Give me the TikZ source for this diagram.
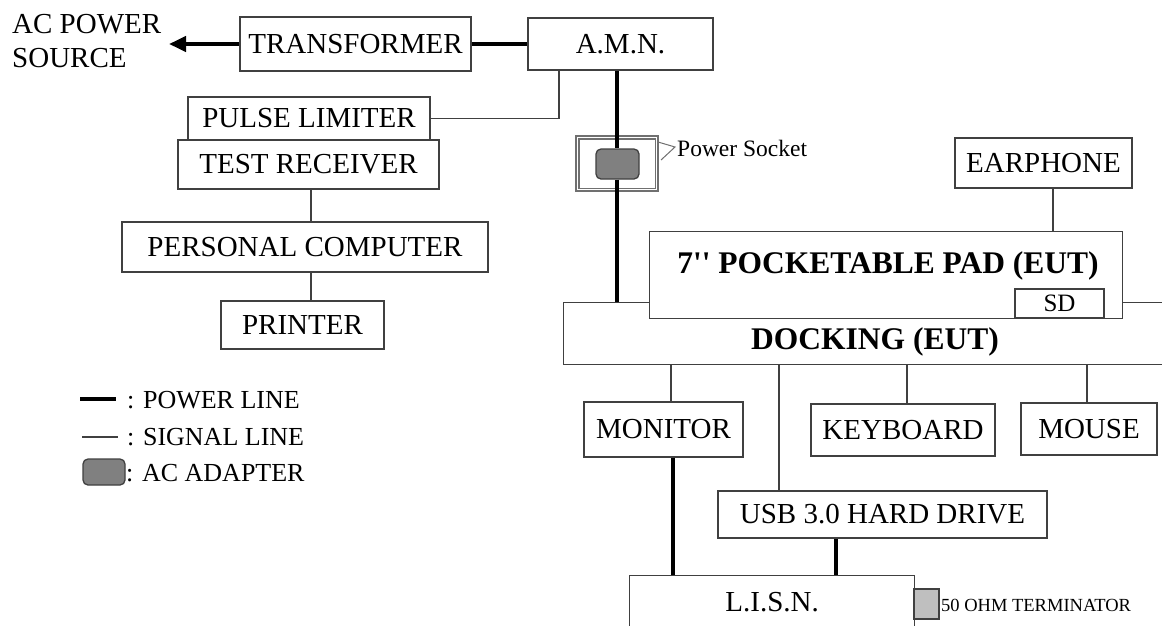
\documentclass[tikz,border=0pt]{standalone}
\usepackage{fontspec}
\setmainfont{Liberation Serif}
\usetikzlibrary{arrows.meta}
\definecolor{bcol}{HTML}{404040}
\definecolor{scol}{HTML}{707070}
\definecolor{adfill}{HTML}{808080}
\begin{document}
\begin{tikzpicture}[x=1pt,y=-1pt,
  txt/.style={font=\fontsize{29}{34}\selectfont},
  bigb/.style={font=\fontsize{31.5}{36}\selectfont\bfseries},
  leg/.style={font=\fontsize{26}{30}\selectfont, inner sep=0pt, anchor=west},
  box/.style={draw=bcol, line width=1.3pt, fill=white, inner sep=0pt, txt},
  sig/.style={draw=bcol, line width=1.3pt},
  pwr/.style={draw=black, line width=4pt},
  adapter/.style={draw=bcol, fill=adfill, rounded corners=5pt, line width=1.3pt, inner sep=0pt},
]
\useasboundingbox (0,0) rectangle (1162,625);
\clip (0,0) rectangle (1162,625);

% ---- top left chain
\node[txt, anchor=west, align=left, inner sep=0pt] (ac) at (12,41) {AC POWER\\SOURCE};
\node[box, minimum width=231pt, minimum height=54pt] (trans) at (355.5,44) {TRANSFORMER};
\node[box, minimum width=185pt, minimum height=52pt] (amn) at (620.5,44) {A.M.N.};
\node[box, minimum width=242pt, minimum height=43pt] (pl) at (309,118.5) {PULSE LIMITER};
\node[box, minimum width=261pt, minimum height=49pt] (tr) at (308.5,164.5) {TEST RECEIVER};
\node[box, minimum width=366pt, minimum height=50pt] (pc) at (305,247) {PERSONAL COMPUTER};
\node[box, minimum width=163pt, minimum height=48pt] (prn) at (302.5,325) {PRINTER};

\coordinate (acpt) at (169,44);
\coordinate (xpl) at (559,0);
\coordinate (xpw) at (617,0);
\coordinate (xtr) at (311,0);

\draw[pwr, -{Triangle[length=17pt,width=15pt]}] (trans.west) -- (trans.west -| acpt);
\draw[pwr] (trans.east) -- (amn.west);
\draw[sig] (amn.south -| xpl) |- (pl.east);
\draw[sig] (tr.south -| xtr) -- (pc.north -| xtr);
\draw[sig] (pc.south -| xtr) -- (prn.north -| xtr);

% ---- power socket and adapter
\node[draw=scol, line width=1.3pt, fill=white, minimum width=82pt, minimum height=55pt, inner sep=0pt] (sock) at (617,163.5) {};
\draw[scol, line width=1.3pt] ([shift={(3.5,3.5)}]sock.north west) rectangle ([shift={(-3.5,-3.5)}]sock.south east);
\node[adapter, minimum width=43pt, minimum height=30pt] (adp) at (617.5,164) {};
\node[anchor=west, inner sep=0pt, font=\fontsize{23.5}{27}\selectfont] (pstxt) at (677,148) {Power Socket};
\coordinate (c1) at (658,142);
\coordinate (c2) at (675,147);
\coordinate (c3) at (661,160);
\draw[scol, line width=1pt] (c1) -- (c2) -- (c3);

% ---- EUT
\node[draw=bcol, line width=1.3pt, fill=white, minimum width=640pt, minimum height=62pt, inner sep=0pt, anchor=north west] (dock) at (563,302) {};
\node[bigb, inner sep=0pt] (docktxt) at (875,342) {DOCKING (EUT)};
\node[box, minimum width=473pt, minimum height=87pt, anchor=north west] (pad) at (649,231) {};
\node[bigb, inner sep=0pt] (padtxt) at (888,266) {7\textquotesingle\textquotesingle{} POCKETABLE PAD (EUT)};
\node[box, font=\fontsize{25}{28}\selectfont, minimum width=89pt, minimum height=29pt] (sd) at (1059.5,303.5) {SD};

\node[box, minimum width=177pt, minimum height=50pt] (ear) at (1043.5,163) {EARPHONE};
\coordinate (xear) at (1053,0);
\draw[sig] (ear.south -| xear) -- (pad.north -| xear);

\draw[pwr] (amn.south -| xpw) -- (sock.north -| xpw);
\draw[pwr] (sock.north -| xpw) -- (adp.north -| xpw);
\draw[pwr] (adp.south -| xpw) -- (dock.north -| xpw);

% ---- peripherals
\node[box, minimum width=159pt, minimum height=55pt] (mon) at (663.5,429.5) {MONITOR};
\node[box, minimum width=184pt, minimum height=52pt] (kb) at (903,430) {KEYBOARD};
\node[box, minimum width=136pt, minimum height=52pt] (mouse) at (1089,429) {MOUSE};
\node[box, minimum width=329pt, minimum height=47pt] (usb) at (882.5,514.5) {USB 3.0 HARD DRIVE};
\node[box, minimum width=285pt, minimum height=52pt, anchor=north west] (lisn) at (629,575) {L.I.S.N.};

\coordinate (xm) at (671,0);
\coordinate (xu) at (779,0);
\coordinate (xk) at (907,0);
\coordinate (xmo) at (1087,0);
\coordinate (xmp) at (673,0);
\coordinate (xup) at (836,0);
\draw[sig] (dock.south -| xm) -- (mon.north -| xm);
\draw[sig] (dock.south -| xu) -- (usb.north -| xu);
\draw[sig] (dock.south -| xk) -- (kb.north -| xk);
\draw[sig] (dock.south -| xmo) -- (mouse.north -| xmo);
\draw[pwr] (mon.south -| xmp) -- (lisn.north -| xmp);
\draw[pwr] (usb.south -| xup) -- (lisn.north -| xup);

\node[draw=bcol, line width=1.3pt, fill=black!25, minimum width=25pt, minimum height=30pt, inner sep=0pt] (term) at (926.5,604) {};
\node[anchor=west, inner sep=0pt, font=\fontsize{18.5}{21}\selectfont] (termtxt) at (941,605) {50 OHM TERMINATOR};

% ---- legend
\coordinate (lp1) at (80,399);
\coordinate (lp2) at (116,399);
\coordinate (ls1) at (82,437);
\coordinate (ls2) at (118,437);
\draw[draw=black, line width=4.5pt] (lp1) -- (lp2);
\node[leg] (lpt) at (127,400) {: POWER LINE};
\draw[sig] (ls1) -- (ls2);
\node[leg] (lst) at (127,437) {: SIGNAL LINE};
\node[adapter, minimum width=42pt, minimum height=26pt] (lad) at (104,472) {};
\node[leg] (lat) at (126,473) {: AC ADAPTER};
\end{tikzpicture}
\end{document}
